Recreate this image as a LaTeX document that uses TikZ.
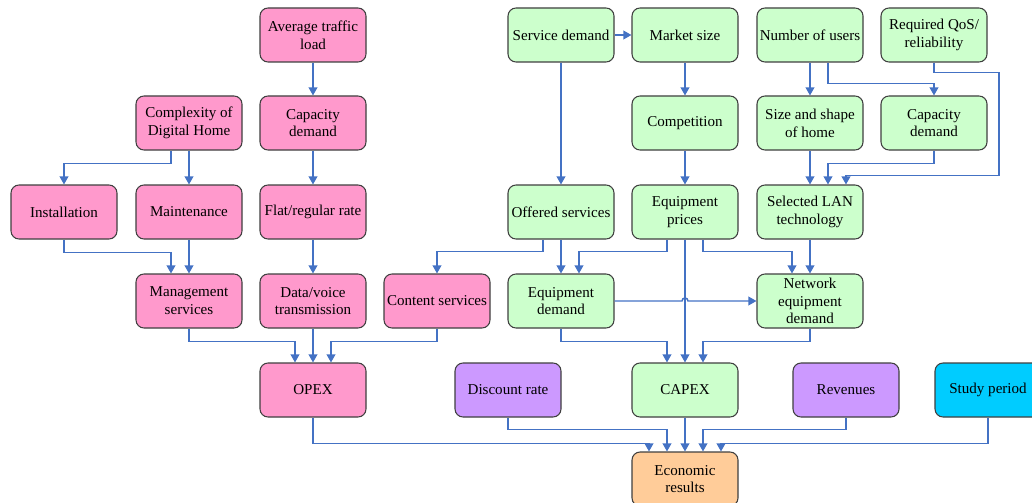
\documentclass[tikz,border=0pt]{standalone}
\usepackage{fontspec}
\setmainfont{Liberation Serif}
\usetikzlibrary{arrows.meta,calc}
\definecolor{pinkf}{HTML}{FF99CC}
\definecolor{greenf}{HTML}{CCFFCC}
\definecolor{purplef}{HTML}{CC99FF}
\definecolor{cyanf}{HTML}{00CCFF}
\definecolor{orangef}{HTML}{FFCC99}
\definecolor{edgec}{HTML}{3F3F3F}
\definecolor{arrc}{HTML}{4472C4}
\tikzset{
  box/.style={draw=edgec, line width=0.8pt, rounded corners=6pt,
    minimum width=79.5pt, minimum height=40.5pt, inner sep=1pt,
    align=center, font=\fontsize{11.3}{13.3}\selectfont},
  pk/.style={box, fill=pinkf},
  gr/.style={box, fill=greenf},
  pu/.style={box, fill=purplef},
  cy/.style={box, fill=cyanf},
  orn/.style={box, fill=orangef},
  arr/.style={draw=arrc, line width=1.1pt, -{Triangle[length=6pt,width=6.5pt]}},
}
\begin{document}
\begin{tikzpicture}[x=0.75pt,y=-0.75pt]
\useasboundingbox (0,0) rectangle (1032,503);
% left (pink) part
\node[pk] (avg)   at (313,35)  {Average traffic\\load};
\node[pk] (cplx)  at (189,123) {Complexity of\\Digital Home};
\node[pk] (capd)  at (313,123) {Capacity\\demand};
\node[pk] (inst)  at (64,212)  {Installation};
\node[pk] (maint) at (189,212) {Maintenance};
\node[pk] (flat)  at (313,212) {Flat/regular rate};
\node[pk] (mgmt)  at (189,301) {Management\\services};
\node[pk] (data)  at (313,301) {Data/voice\\transmission};
\node[pk] (cont)  at (437,301) {Content services};
\node[pk] (opex)  at (313,390) {OPEX};
% right (green) part
\node[gr] (sdem)  at (561,35)  {Service demand};
\node[gr] (msize) at (685,35)  {Market size};
\node[gr] (users) at (810,35)  {Number of users};
\node[gr] (qos)   at (934,35)  {Required QoS/\\reliability};
\node[gr] (comp)  at (685,123) {Competition};
\node[gr] (size)  at (810,123) {Size and shape\\of home};
\node[gr] (capd2) at (934,123) {Capacity\\demand};
\node[gr] (offer) at (561,212) {Offered services};
\node[gr] (eqp)   at (685,212) {Equipment\\prices};
\node[gr] (lan)   at (810,212) {Selected LAN\\technology};
\node[gr] (eqd)   at (561,301) {Equipment\\demand};
\node[gr] (ned)   at (810,301) {Network\\equipment\\demand};
\node[gr] (capex) at (685,390) {CAPEX};
% bottom
\node[pu] (disc)  at (508,390) {Discount rate};
\node[pu] (rev)   at (846,390) {Revenues};
\node[cy] (study) at (988,390) {Study period};
\node[orn] (econ) at (685,479) {Economic\\results};

% connectors left
\draw[arr] (avg.south) -- (capd.north);
\draw[arr] (capd.south) -- (flat.north);
\draw[arr] (flat.south) -- (data.north);
\draw[arr] ($(cplx.south)+(-18,0)$) -- ++(0,13) -| (inst.north);
\draw[arr] (cplx.south) -- (maint.north);
\draw[arr] (inst.south) -- ++(0,13) -| ($(mgmt.north)+(-18,0)$);
\draw[arr] (maint.south) -- (mgmt.north);
\draw[arr] (mgmt.south) -- ++(0,13) -| ($(opex.north)+(-18,0)$);
\draw[arr] (data.south) -- (opex.north);
\draw[arr] (cont.south) -- ++(0,13) -| ($(opex.north)+(18,0)$);
% connectors right
\draw[arr] (sdem.east) -- (msize.west);
\draw[arr] (sdem.south) -- (offer.north);
\draw[arr] (msize.south) -- (comp.north);
\draw[arr] (comp.south) -- (eqp.north);
\draw[arr] (users.south) -- (size.north);
\draw[arr] ($(users.south)+(18,0)$) -- ++(0,21) -| (capd2.north);
\draw[arr] (size.south) -- (lan.north);
\draw[arr] (capd2.south) -- ++(0,13) -| ($(lan.north)+(18,0)$);
\draw[arr] (qos.south) -- ++(0,10) -- ++(65,0) -- ++(0,103) -| ($(lan.north)+(36,0)$);
\draw[arr] ($(offer.south)+(-18,0)$) -- ++(0,12) -| (cont.north);
\draw[arr] (offer.south) -- (eqd.north);
\draw[arr] ($(eqp.south)+(-18,0)$) -- ++(0,12) -| ($(eqd.north)+(18,0)$);
\draw[arr] (eqp.south) -- (capex.north);
\draw[arr] ($(eqp.south)+(18,0)$) -- ++(0,12) -| ($(ned.north)+(-18,0)$);
\draw[arr] (lan.south) -- (ned.north);
\draw[arr] (eqd.east) -- ($(eqp.south |- eqd.east)+(-3,0)$)
  arc[start angle=180, delta angle=-180, radius=2.25pt] -- (ned.west);
\draw[arr] (eqd.south) -- ++(0,13) -| ($(capex.north)+(-18,0)$);
\draw[arr] (ned.south) -- ++(0,13) -| ($(capex.north)+(18,0)$);
% to economic results
\draw[arr] (opex.south) -- ++(0,26) -| ($(econ.north)+(-36,0)$);
\draw[arr] (disc.south) -- ++(0,12) -| ($(econ.north)+(-18,0)$);
\draw[arr] (capex.south) -- (econ.north);
\draw[arr] (rev.south) -- ++(0,12) -| ($(econ.north)+(18,0)$);
\draw[arr] (study.south) -- ++(0,26) -| ($(econ.north)+(36,0)$);
\end{tikzpicture}
\end{document}
